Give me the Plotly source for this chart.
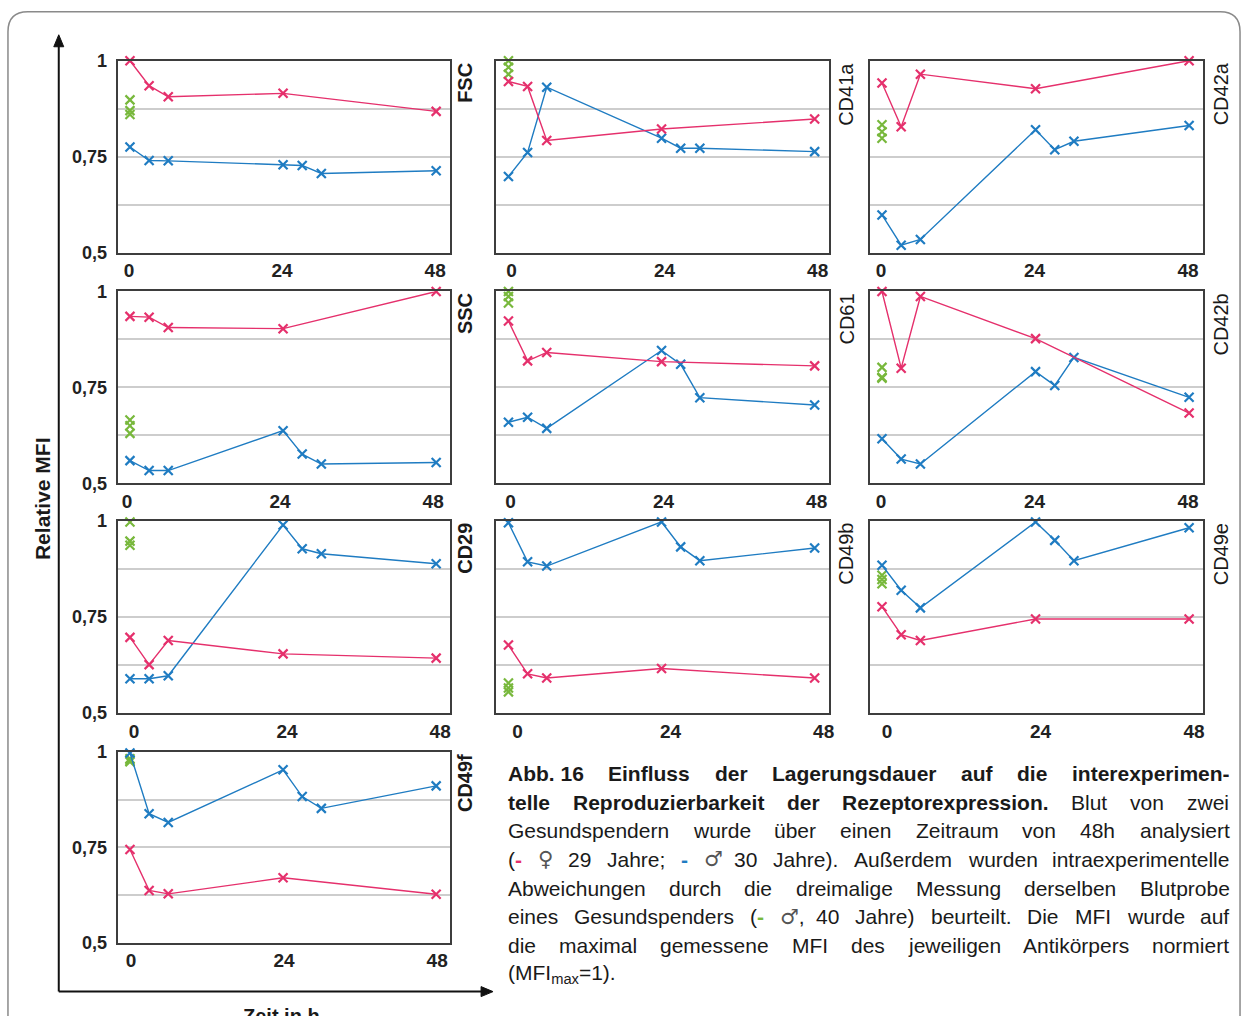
import plotly.graph_objects as go

W, H = 1253, 1016

# ---------------- data ----------------
T_PINK = [0, 3, 6, 24, 48]            # donor 1 (female, 29 y)
T_BLUE = [0, 3, 6, 24, 27, 30, 48]    # donor 2 (male, 30 y)
T_GREEN = [0, 0, 0]                   # triplicate measurement (male, 40 y)

X_TICKS = [0, 24, 48]
X_TICK_TEXT = ["0", "24", "48"]
Y_TICKS = [0.5, 0.75, 1.0]
Y_TICK_TEXT = ["0,5", "0,75", "1"]
Y_GRID_STEP = 0.125

fsc_pink = [1.0, 0.935, 0.906, 0.915, 0.868]
fsc_blue = [0.775, 0.740, 0.739, 0.729, 0.727, 0.706, 0.713]
fsc_green = [0.898, 0.870, 0.860]

cd41a_pink = [0.946, 0.933, 0.792, 0.822, 0.848]
cd41a_blue = [0.698, 0.761, 0.931, 0.798, 0.772, 0.772, 0.763]
cd41a_green = [1.0, 0.983, 0.965]

cd42a_pink = [0.942, 0.828, 0.965, 0.927, 1.0]
cd42a_blue = [0.598, 0.519, 0.534, 0.820, 0.768, 0.790, 0.831]
cd42a_green = [0.833, 0.815, 0.798]

ssc_pink = [0.935, 0.933, 0.906, 0.903, 1.0]
ssc_blue = [0.559, 0.533, 0.533, 0.637, 0.576, 0.550, 0.554]
ssc_green = [0.665, 0.650, 0.630]

cd61_pink = [0.923, 0.819, 0.841, 0.817, 0.806]
cd61_blue = [0.659, 0.672, 0.643, 0.846, 0.810, 0.723, 0.704]
cd61_green = [1.0, 0.987, 0.970]

cd42b_pink = [1.0, 0.800, 0.987, 0.877, 0.683]
cd42b_blue = [0.616, 0.563, 0.550, 0.791, 0.755, 0.828, 0.724]
cd42b_green = [0.802, 0.776, 0.774]

cd29_pink = [0.697, 0.626, 0.689, 0.654, 0.643]
cd29_blue = [0.589, 0.589, 0.597, 0.990, 0.928, 0.915, 0.889]
cd29_green = [0.998, 0.948, 0.937]

cd49b_pink = [0.677, 0.602, 0.591, 0.616, 0.591]
cd49b_blue = [0.996, 0.894, 0.883, 0.998, 0.933, 0.897, 0.930]
cd49b_green = [0.578, 0.565, 0.555]

cd49e_pink = [0.777, 0.704, 0.689, 0.745, 0.745]
cd49e_blue = [0.885, 0.820, 0.774, 0.998, 0.950, 0.897, 0.983]
cd49e_green = [0.859, 0.848, 0.837]

cd49f_pink = [0.744, 0.637, 0.628, 0.670, 0.627]
cd49f_blue = [0.997, 0.838, 0.815, 0.953, 0.883, 0.852, 0.911]
cd49f_green = [0.974, 0.978, 0.982]

# (label, row, col, pink, blue, green, tick label shift)
PANELS = [
    ("FSC", 0, 0, fsc_pink, fsc_blue, fsc_green, -1),
    ("CD41a", 0, 1, cd41a_pink, cd41a_blue, cd41a_green, 3),
    ("CD42a", 0, 2, cd42a_pink, cd42a_blue, cd42a_green, -1),
    ("SSC", 1, 0, ssc_pink, ssc_blue, ssc_green, -3),
    ("CD61", 1, 1, cd61_pink, cd61_blue, cd61_green, 2),
    ("CD42b", 1, 2, cd42b_pink, cd42b_blue, cd42b_green, -1),
    ("CD29", 2, 0, cd29_pink, cd29_blue, cd29_green, 4),
    ("CD49b", 2, 1, cd49b_pink, cd49b_blue, cd49b_green, 9),
    ("CD49e", 2, 2, cd49e_pink, cd49e_blue, cd49e_green, 5),
    ("CD49f", 3, 0, cd49f_pink, cd49f_blue, cd49f_green, 1),
]

# ---------------- style ----------------
PINK = "#e5306c"
BLUE = "#1f7cc2"
GREEN = "#78b83c"
FRAME = "#3d3d3d"
GRID = "#cdcdcd"
FONT = "Liberation Sans, Arial, sans-serif"

COL_LEFT = [118, 498, 873]
COL_RIGHT = [452, 832, 1208]
ROW_TOP = [59, 290, 520, 751]
ROW_BOTTOM = [251, 482, 712, 942]
LABEL_DX = [15, 18, 18]

# vertical page calibration (page pixels -> figure pixels)
Y_OFFSET, Y_SCALE = 8.2, 0.9815


def px(x):
    return x / W


def py(y):
    return 1 - ((y - Y_OFFSET) / Y_SCALE) / H


fig = go.Figure()
layout = dict(
    width=W, height=H, margin=dict(l=0, r=0, t=0, b=0),
    paper_bgcolor="white", plot_bgcolor="white", showlegend=False,
    font=dict(family=FONT, color="#1a1a1a"),
)
annotations = []
shapes = []


def series(x, y, color, xa, ya, mode):
    return go.Scatter(
        x=x, y=y, xaxis=xa, yaxis=ya, mode=mode, cliponaxis=False,
        line=dict(color=color, width=1.4),
        marker=dict(symbol="x-thin", size=9, line=dict(color=color, width=2.2)),
        hoverinfo="skip",
    )


for i, (name, row, col, pink, blue, green, shift) in enumerate(PANELS):
    n = i + 1
    sfx = "" if n == 1 else str(n)
    xa, ya = "x" + sfx, "y" + sfx

    fig.add_trace(series(T_GREEN, green, GREEN, xa, ya, "markers"))
    fig.add_trace(series(T_BLUE, blue, BLUE, xa, ya, "lines+markers"))
    fig.add_trace(series(T_PINK, pink, PINK, xa, ya, "lines+markers"))

    layout["xaxis" + sfx] = dict(
        domain=[px(COL_LEFT[col]), px(COL_RIGHT[col])], anchor=ya,
        range=[-1.95, 50.2], tickvals=X_TICKS, ticktext=X_TICK_TEXT,
        showgrid=False, zeroline=False, showline=True, mirror=True,
        linecolor=FRAME, linewidth=2, ticks="",
        tickfont=dict(size=19, weight="bold", color="#222222"),
        ticklabelstandoff=0, ticklabelshift=shift, fixedrange=True,
    )
    layout["yaxis" + sfx] = dict(
        domain=[py(ROW_BOTTOM[row]), py(ROW_TOP[row])], anchor=xa,
        range=[0.5, 1.0], tickvals=Y_TICKS, ticktext=Y_TICK_TEXT,
        showgrid=True, gridcolor=GRID, gridwidth=1.6, zeroline=False,
        minor=dict(tick0=0.5, dtick=Y_GRID_STEP, showgrid=True,
                   gridcolor=GRID, gridwidth=1.6, ticks=""),
        showline=True, mirror=True, linecolor=FRAME, linewidth=2, ticks="",
        showticklabels=(col == 0),
        tickfont=dict(size=18, weight="bold", color="#222222"),
        ticklabelstandoff=5, fixedrange=True,
    )

    annotations.append(dict(
        text=f"<b>{name}</b>" if col == 0 else name,
        x=px(COL_RIGHT[col] + LABEL_DX[col]), y=py(ROW_TOP[row] + 1),
        xref="paper", yref="paper", xanchor="center", yanchor="top",
        textangle=-90, showarrow=False, borderpad=0,
        font=dict(size=20, color="#1a1a1a"),
    ))

# ---------------- outer frame and axis arrows ----------------
x0, x1, yt, r = 8, 1245, 10, 20
shapes.append(dict(
    type="path", xref="paper", yref="paper",
    path=(f"M {px(x0)},{py(1030)} L {px(x0)},{py(yt + r)} "
          f"Q {px(x0)},{py(yt)} {px(x0 + r)},{py(yt)} "
          f"L {px(x1 - r)},{py(yt)} Q {px(x1)},{py(yt)} {px(x1)},{py(yt + r)} "
          f"L {px(x1)},{py(1030)}"),
    line=dict(color="#8a8a8a", width=1.5),
))
ax, ay = 59, 991
shapes.append(dict(type="line", xref="paper", yref="paper",
                   x0=px(ax), y0=py(ay), x1=px(ax), y1=py(42),
                   line=dict(color="#111111", width=2)))
shapes.append(dict(type="line", xref="paper", yref="paper",
                   x0=px(ax), y0=py(ay), x1=px(486), y1=py(ay),
                   line=dict(color="#111111", width=2)))
shapes.append(dict(type="path", xref="paper", yref="paper",
                   path=f"M {px(ax)},{py(33)} L {px(ax - 5)},{py(45)} L {px(ax + 5)},{py(45)} Z",
                   fillcolor="#111111", line=dict(color="#111111", width=1)))
shapes.append(dict(type="path", xref="paper", yref="paper",
                   path=f"M {px(495)},{py(ay)} L {px(483)},{py(ay - 5)} L {px(483)},{py(ay + 5)} Z",
                   fillcolor="#111111", line=dict(color="#111111", width=1)))

annotations.append(dict(
    text="<b>Relative MFI</b>", x=px(42), y=py(497), xref="paper", yref="paper",
    xanchor="center", yanchor="middle", textangle=-90, showarrow=False,
    borderpad=0, font=dict(size=21, color="#1a1a1a"),
))
annotations.append(dict(
    text="<b>Zeit in h</b>", x=px(283), y=py(1003), xref="paper", yref="paper",
    xanchor="center", yanchor="top", showarrow=False, borderpad=0,
    font=dict(size=20, color="#1a1a1a"),
))

# ---------------- justified caption ----------------
CAP_FONT = "Liberation Sans, Arial, sans-serif"
CAP_SIZE = 21
CAP_LEFT, CAP_RIGHT = 509, 1233
CAP_TOP, CAP_STEP = 772.5, 28.7
SYMBOL_W = 14


def width_table(groups):
    table = {}
    for chars, w in groups:
        for ch in chars:
            table[ch] = w
    return table


# Arial-metric advance widths, 1/1000 em
W_REG = width_table([
    (" ,.;ftI", 278), ("()-r", 333), ("=", 584), ("Jcksvxyz", 500),
    ("0123456789abdeghnopquäöü", 556), ("ijl", 222), ("ß", 611),
    ("ABEKPSVXY", 667), ("CDHNRUw", 722), ("FTZ", 611), ("GOQ", 778),
    ("Mm", 833), ("L", 556), ("W", 944),
])
W_BOLD = width_table([
    (" ,.Iijl", 278), ("()-;ft", 333), ("r", 389), ("z", 500),
    ("0123456789acesvxyk", 556), ("bdghnopqu", 611), ("E", 667),
    ("ABCDHRU", 722), ("GO", 778), ("M", 833), ("m", 889), ("w", 778),
    ("FLZ", 611), ("S", 667),
])


def R(t):
    return [(t, "r")]


def B(t):
    return [(t, "b")]


def S(t):
    return [(t, "sym")]


CAPTION_LINES = [
    [B("Abb. 16"), B("Einfluss"), B("der"), B("Lagerungsdauer"), B("auf"),
     B("die"), B("interexperimen-")],
    [B("telle"), B("Reproduzierbarkeit"), B("der"), B("Rezeptorexpression."),
     R("Blut"), R("von"), R("zwei")],
    [R(w) for w in "Gesundspendern wurde über einen Zeitraum von 48h analysiert".split()],
    [[("(", "r"), ("-", PINK)], S("♀"), R("29"), R("Jahre;"), [("-", BLUE)],
     S("♂"), R("30"), R("Jahre)."), R("Außerdem"), R("wurden"),
     R("intraexperimentelle")],
    [R(w) for w in "Abweichungen durch die dreimalige Messung derselben Blutprobe".split()],
    [R("eines"), R("Gesundspenders"), [("(", "r"), ("-", GREEN)],
     [("♂", "sym"), (",", "r")], R("40"), R("Jahre)"), R("beurteilt."),
     R("Die"), R("MFI"), R("wurde"), R("auf")],
    [R(w) for w in "die maximal gemessene MFI des jeweiligen Antikörpers normiert".split()],
]
CAPTION_LAST = "(MFI<sub>max</sub>=1)."


def word_width(runs):
    w = 0.0
    for text, kind in runs:
        if kind == "sym":
            w += SYMBOL_W * len(text)
            continue
        table = W_REG if kind == "r" else W_BOLD
        for ch in text:
            w += table.get(ch, 556) * CAP_SIZE / 1000
    return w


def word_html(runs):
    out = []
    for text, kind in runs:
        if kind == "r":
            out.append(text)
        elif kind == "b":
            out.append(f"<b>{text}</b>")
        elif kind == "sym":
            out.append(f"<span style='font-family:DejaVu Sans;color:#555555'>{text}</span>")
        else:
            out.append(f"<span style='color:{kind}'><b>{text}</b></span>")
    return "".join(out)


for li, words in enumerate(CAPTION_LINES):
    ycen = CAP_TOP + li * CAP_STEP
    widths = [word_width(w) for w in words]
    gap = (CAP_RIGHT - CAP_LEFT - sum(widths)) / (len(words) - 1)
    xpos = CAP_LEFT
    for w, wd in zip(words, widths):
        annotations.append(dict(
            text=word_html(w), x=px(xpos), y=py(ycen), xref="paper", yref="paper",
            xanchor="left", yanchor="middle", showarrow=False, borderpad=0,
            font=dict(family=CAP_FONT, size=CAP_SIZE, color="#1a1a1a"),
        ))
        xpos += wd + gap

annotations.append(dict(
    text=CAPTION_LAST, x=px(CAP_LEFT), y=py(CAP_TOP + 7 * CAP_STEP),
    xref="paper", yref="paper", xanchor="left", yanchor="middle",
    showarrow=False, borderpad=0,
    font=dict(family=CAP_FONT, size=CAP_SIZE, color="#1a1a1a"),
))

layout["annotations"] = annotations
layout["shapes"] = shapes
fig.update_layout(**layout)
fig.write_html("out.html")
